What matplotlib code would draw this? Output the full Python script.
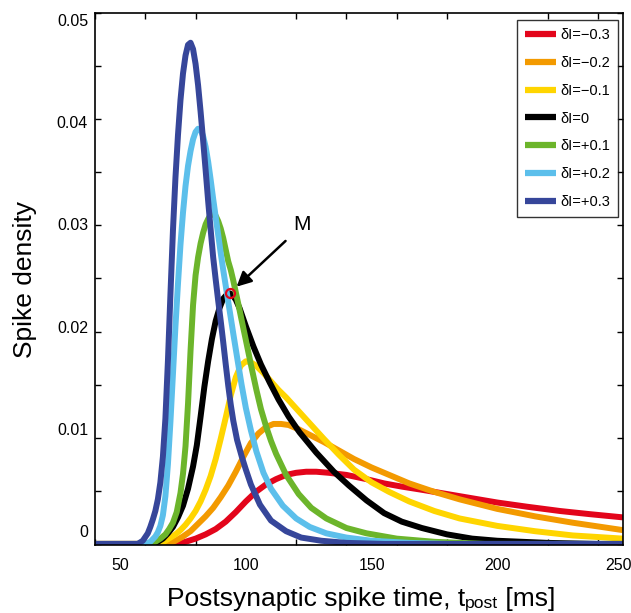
import matplotlib
matplotlib.use("Agg")
import matplotlib.pyplot as plt
from matplotlib.transforms import ScaledTranslation
from matplotlib.ticker import MultipleLocator, FixedLocator

plt.rcParams['font.family'] = ['Liberation Sans', 'DejaVu Sans']

# ---- data ----
labels = ['δI=−0.3', 'δI=−0.2', 'δI=−0.1', 'δI=0', 'δI=+0.1', 'δI=+0.2', 'δI=+0.3']
colors = ['#E3051B', '#F39A00', '#FFD500', '#000000', '#6CB52B', '#5CBFEB', '#36469A']

t_m03 = [40, 72, 76, 80, 84, 88, 92, 96, 100, 104, 108, 112, 116, 120, 124, 128, 133, 140, 148, 155, 162, 170, 180, 190, 200, 212, 225, 237, 250]
d_m03 = [0, 0, 0.0002, 0.0005, 0.0009, 0.0014, 0.0021, 0.0030, 0.0040, 0.0049, 0.0056, 0.0061, 0.0065, 0.0067, 0.0068, 0.0068, 0.0067, 0.0065, 0.0061, 0.0057, 0.0054, 0.0051, 0.0047, 0.0043, 0.0039, 0.0035, 0.0031, 0.0028, 0.0025]

t_m02 = [40, 68, 70, 72, 75, 78, 81, 84, 87, 90, 93, 96, 99, 102, 105, 108, 111, 114, 117, 121, 126, 131, 137, 143, 150, 157, 165, 175, 185, 200, 215, 230, 250]
d_m02 = [0, 0, 0.0001, 0.0003, 0.0007, 0.0012, 0.0019, 0.0026, 0.0034, 0.0044, 0.0055, 0.0068, 0.0082, 0.0095, 0.0104, 0.0110, 0.0113, 0.0113, 0.0112, 0.0108, 0.0102, 0.0096, 0.0088, 0.0080, 0.0072, 0.0065, 0.0057, 0.0049, 0.0042, 0.0033, 0.0026, 0.0020, 0.0013]

t_m01 = [40, 66, 68, 70, 72, 74, 76, 78, 80, 82, 84, 86, 88, 90, 92, 94, 96, 98, 100, 102, 104, 107, 110, 113, 116, 121, 126, 131, 137, 143, 150, 157, 165, 175, 185, 200, 215, 230, 250]
d_m01 = [0, 0, 0.0003, 0.0006, 0.0009, 0.0013, 0.0018, 0.0024, 0.0031, 0.0040, 0.0051, 0.0064, 0.0080, 0.0099, 0.0119, 0.0140, 0.0157, 0.0168, 0.0172, 0.0171, 0.0168, 0.0161, 0.0153, 0.0145, 0.0138, 0.0125, 0.0112, 0.0099, 0.0084, 0.0070, 0.0058, 0.0049, 0.0040, 0.0031, 0.0024, 0.0017, 0.0012, 0.0008, 0.0005]

t_0 = [40, 63, 65, 67, 69, 71, 73, 75, 77, 79, 80.5, 82, 83.5, 85, 86.5, 88, 89.5, 91, 92.5, 93.5, 94.5, 96, 97.5, 100, 103, 106, 109.5, 113, 117, 121.4, 128, 135, 141, 148, 155, 162, 170, 180, 190, 200, 220, 240, 250]
d_0 = [0, 0, 0.0002, 0.0005, 0.0010, 0.0016, 0.0025, 0.0036, 0.0052, 0.0073, 0.0093, 0.0120, 0.0148, 0.0172, 0.0193, 0.0210, 0.0222, 0.0231, 0.0235, 0.0236, 0.0235, 0.0230, 0.0222, 0.0205, 0.0186, 0.0169, 0.0152, 0.0136, 0.0120, 0.0105, 0.0086, 0.0068, 0.0055, 0.0041, 0.0029, 0.0021, 0.0015, 0.0009, 0.0005, 0.0003, 0.0001, 0, 0]

t_p01 = [40, 62, 64, 66, 68, 69.5, 71, 72.5, 74, 75, 76, 77, 78, 79, 80, 81, 82, 83, 84, 85, 86, 87, 88, 89, 90, 91, 92, 93, 94, 95, 96, 97, 98.3, 100, 102, 104.2, 106, 108, 110, 112, 116, 121, 126, 132, 140, 148, 160, 175, 195, 250]
d_p01 = [0, 0, 0.0002, 0.0005, 0.0009, 0.0014, 0.0020, 0.0030, 0.0048, 0.0066, 0.0092, 0.0132, 0.0182, 0.0225, 0.0253, 0.0270, 0.0283, 0.0293, 0.0301, 0.0306, 0.0310, 0.0311, 0.0309, 0.0304, 0.0297, 0.0288, 0.0277, 0.0266, 0.0258, 0.0248, 0.0237, 0.0226, 0.0211, 0.0192, 0.0169, 0.0145, 0.0127, 0.0111, 0.0097, 0.0085, 0.0065, 0.0047, 0.0034, 0.0024, 0.0015, 0.0010, 0.0005, 0.0002, 0, 0]

t_p02 = [40, 60, 62, 64, 65, 66, 67, 68, 69, 70, 71, 72, 73, 74, 75, 76, 77, 78, 79, 80, 81, 82, 83, 84, 85, 86, 87, 88, 89, 90, 91, 92, 93, 94, 95, 96.5, 98.3, 100, 102, 104.2, 107, 110, 114.7, 120, 125.4, 132, 140, 150, 165, 180, 250]
d_p02 = [0, 0, 0.0002, 0.0007, 0.0011, 0.0017, 0.0027, 0.0045, 0.0075, 0.0115, 0.0160, 0.0205, 0.0245, 0.0282, 0.0312, 0.0337, 0.0356, 0.0370, 0.0381, 0.0388, 0.0391, 0.0390, 0.0384, 0.0374, 0.0360, 0.0343, 0.0325, 0.0308, 0.0291, 0.0274, 0.0258, 0.0243, 0.0228, 0.0213, 0.0198, 0.0176, 0.0150, 0.0128, 0.0107, 0.0087, 0.0067, 0.0052, 0.0036, 0.0024, 0.0016, 0.0010, 0.0006, 0.0003, 0.0001, 0, 0]

t_p03 = [40, 57, 59, 61, 62, 63, 64, 65, 66, 67, 68, 69, 70, 71, 72, 73, 74, 75, 76, 77, 78, 79, 80, 81, 82, 83, 84, 85, 86, 87, 88, 89, 90, 91, 92, 93, 94, 95, 96.5, 98.4, 100, 102, 105.6, 110, 116, 122, 130, 140, 155, 250]
d_p03 = [0, 0, 0.0003, 0.0010, 0.0016, 0.0023, 0.0031, 0.0042, 0.0058, 0.0082, 0.0118, 0.0172, 0.0235, 0.0295, 0.0345, 0.0385, 0.0418, 0.0443, 0.0460, 0.0470, 0.0472, 0.0466, 0.0452, 0.0432, 0.0407, 0.0380, 0.0352, 0.0323, 0.0296, 0.0270, 0.0249, 0.0229, 0.0210, 0.0190, 0.0169, 0.0149, 0.0131, 0.0116, 0.0098, 0.0082, 0.0070, 0.0056, 0.0037, 0.0022, 0.0012, 0.0006, 0.0003, 0.0001, 0, 0]

times = [t_m03, t_m02, t_m01, t_0, t_p01, t_p02, t_p03]
dens = [d_m03, d_m02, d_m01, d_0, d_p01, d_p02, d_p03]

xticks_major = [50, 100, 150, 200, 250]
yticks_major = [0, 0.01, 0.02, 0.03, 0.04, 0.05]
ytick_labels = ['0', '0.01', '0.02', '0.03', '0.04', '0.05']

# ---- figure ----
W, H = 631, 613
fig = plt.figure(figsize=(W/100, H/100), dpi=100)
ax = fig.add_axes([95/W, 1-545/H, 528/W, 532/H])

for t, d, c, lab in zip(times, dens, colors, labels):
    ax.plot(t, d, color=c, lw=4.3, label=lab, solid_capstyle='butt', solid_joinstyle='round')

# point M: maximum of the δI=0 curve
imax = d_0.index(max(d_0))
mx, my = t_0[imax], d_0[imax]
ax.plot([mx], [my], 'o', ms=6.5, mfc='none', mec='#E3051B', mew=1.6, zorder=5)
ax.annotate('M', xy=(mx, my), xytext=(46, 43), textcoords='offset points',
            fontsize=15, ha='left', va='bottom',
            arrowprops=dict(arrowstyle='-|>', lw=1.8, color='k', mutation_scale=22,
                            shrinkA=5, shrinkB=7, relpos=(0, 0)))

ax.set_xlim(40, 250)
ax.set_ylim(-0.0001, 0.05)

ax.xaxis.set_major_locator(FixedLocator(xticks_major))
ax.xaxis.set_minor_locator(MultipleLocator(20))
ax.yaxis.set_major_locator(FixedLocator(yticks_major))
ax.set_yticklabels(ytick_labels)
ax.yaxis.set_minor_locator(MultipleLocator(0.005))

ax.tick_params(axis='x', which='major', length=0, pad=9, labelsize=11.5)
ax.tick_params(axis='x', which='minor', direction='in', length=4, width=1, top=True, bottom=True)
ax.tick_params(axis='y', which='both', direction='in', length=4, width=1, left=True, right=True, labelsize=11.5, pad=5)
# the reference's y labels sit on a slightly compressed scale relative to the ticks
for k, lab in enumerate(ax.get_yticklabels()):
    shift_px = 13 - 4 * k
    lab.set_transform(lab.get_transform() + ScaledTranslation(0, shift_px/100, fig.dpi_scale_trans))
xl = ax.get_xticklabels()
xl[-1].set_transform(xl[-1].get_transform() + ScaledTranslation(-5/100, 0, fig.dpi_scale_trans))

for s in ax.spines.values():
    s.set_linewidth(1.2)

fig.text(25/W, 1-279/H, 'Spike density', rotation=90, ha='center', va='center', fontsize=19)

# x label assembled from pieces so the subscript sits like in the reference
renderer = fig.canvas.get_renderer()
p1 = fig.text(0, 0, 'Postsynaptic spike time, t', fontsize=19, va='baseline')
p2 = fig.text(0, 0, 'post', fontsize=12.6, va='baseline')
p3 = fig.text(0, 0, '\u00a0[ms]', fontsize=19, va='baseline')
w1 = p1.get_window_extent(renderer).width
w2 = p2.get_window_extent(renderer).width
w3 = p3.get_window_extent(renderer).width
x0 = 361 - (w1 + w2 + w3) / 2
base = H - 606
p1.set_position((x0/W, base/H))
p2.set_position(((x0 + w1)/W, (base - 2)/H))
p3.set_position(((x0 + w1 + w2)/W, base/H))

leg = ax.legend(loc='upper right', bbox_to_anchor=((618-95)/528, (545-20)/532), borderaxespad=0,
                fontsize=10.5, handlelength=2.1, handletextpad=0.3, labelspacing=0.95,
                borderpad=0.55, fancybox=False, frameon=True, edgecolor='k')
leg.get_frame().set_linewidth(1.0)
for h in leg.get_lines():
    h.set_linewidth(4.5)

fig.savefig('out.png', dpi=100)
